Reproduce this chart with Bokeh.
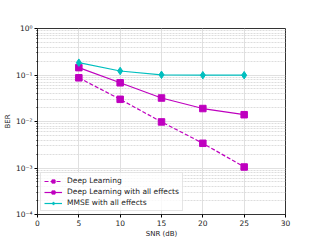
from bokeh.plotting import figure
from bokeh.embed import file_html
from bokeh.resources import INLINE
from bokeh.models import FixedTicker, Legend, LegendItem, Range1d

snr = [5, 10, 15, 20, 25]
ber_dl = [0.087, 0.030, 0.0098, 0.0034, 0.00105]
ber_dl_eff = [0.144, 0.068, 0.032, 0.019, 0.014]
ber_mmse = [0.184, 0.122, 0.101, 0.099, 0.099]

x_ticks = [0, 5, 10, 15, 20, 25, 30]
y_ticks = [1e-4, 1e-3, 1e-2, 1e-1, 1]
y_labels = {1e-4: "10⁻⁴", 1e-3: "10⁻³", 1e-2: "10⁻²", 1e-1: "10⁻¹", 1: "10⁰"}

MAG = "#bf00bf"
CYA = "#00bfbf"

p = figure(frame_width=248, frame_height=186, y_axis_type="log", output_backend="svg",
           toolbar_location=None, x_range=Range1d(0, 30), y_range=Range1d(1e-4, 1),
           min_border_left=35, min_border_right=20, min_border_top=28, min_border_bottom=24)
p.outline_line_color = "#333333"
p.background_fill_color = "white"

p.xaxis.ticker = FixedTicker(ticks=x_ticks)
p.yaxis.ticker = FixedTicker(ticks=y_ticks, minor_ticks=[m*10**e for e in range(-4, 0) for m in range(2, 10)])
p.yaxis.major_label_overrides = y_labels
for ax in (p.xaxis, p.yaxis):
    ax.major_label_text_font_size = "7.5px"
    ax.axis_label_text_font_size = "7px"
    ax.axis_label_text_font_style = "normal"
    ax.major_label_text_font = "DejaVu Sans"
    ax.axis_label_text_font = "DejaVu Sans"
    ax.major_label_text_color = "#222222"
    ax.axis_label_text_color = "#222222"
    ax.major_tick_out = 3
    ax.major_tick_in = 0
    ax.minor_tick_out = 1
    ax.minor_tick_in = 0
    ax.axis_line_color = "#333333"
    ax.major_label_standoff = 2
    ax.axis_label_standoff = 1
p.xaxis.axis_label = "SNR (dB)"
p.yaxis.axis_label = "BER"
p.xaxis.minor_tick_line_color = None

p.xgrid.grid_line_color = "#e0e0e0"
p.ygrid.grid_line_color = "#e0e0e0"
p.ygrid.minor_grid_line_color = "#dddddd"
p.ygrid.minor_grid_line_dash = "2 1"

r1 = p.line(snr, ber_dl, line_color=MAG, line_width=1.2, line_dash="4 2")
m1 = p.scatter(snr, ber_dl, marker="square", size=6.5, color=MAG)
r2 = p.line(snr, ber_dl_eff, line_color=MAG, line_width=1.2)
m2 = p.scatter(snr, ber_dl_eff, marker="square", size=6.5, color=MAG)
r3 = p.line(snr, ber_mmse, line_color=CYA, line_width=1.2)
m3 = p.scatter(snr, ber_mmse, marker="diamond", size=7.5, color=CYA)

legend = Legend(items=[
    LegendItem(label="Deep Learning", renderers=[r1, m1]),
    LegendItem(label="Deep Learning with all effects", renderers=[r2, m2]),
    LegendItem(label="MMSE with all effects", renderers=[r3, m3]),
], location="bottom_left")
legend.label_text_font_size = "7.5px"
legend.label_text_font = "DejaVu Sans"
legend.label_text_color = "#222222"
legend.glyph_height = 8
legend.glyph_width = 18
legend.label_height = 8
legend.spacing = 2
legend.padding = 3
legend.margin = 3
legend.border_line_color = "#cccccc"
legend.background_fill_alpha = 0.8
p.add_layout(legend)

open("out.html", "w").write(file_html(p, INLINE))
